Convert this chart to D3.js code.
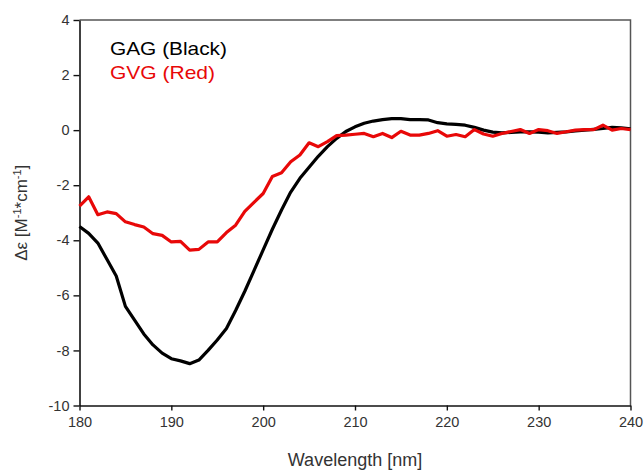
<!DOCTYPE html>
<html>
<head>
<meta charset="utf-8">
<script src="https://cdn.jsdelivr.net/npm/d3@7"></script>
<style>
  html, body { margin: 0; padding: 0; background: #fff; }
  svg { display: block; font-family: "Liberation Sans", Arial, sans-serif; }
</style>
</head>
<body>
<svg id="chart" width="644" height="470"></svg>
<script>
// ---- data ----
const wavelengths = d3.range(180, 241, 1);
const gagValues = [
  -3.5, -3.75, -4.1, -4.7, -5.3, -6.4, -6.9, -7.4, -7.8, -8.1,
  -8.3, -8.38, -8.48, -8.35, -8.0, -7.62, -7.2, -6.55, -5.85, -5.1,
  -4.35, -3.6, -2.9, -2.25, -1.75, -1.35, -0.95, -0.6, -0.3, -0.05,
  0.12, 0.25, 0.33, 0.38, 0.42, 0.42, 0.38, 0.38, 0.37, 0.27,
  0.23, 0.21, 0.18, 0.1, 0.0, -0.07, -0.1, -0.08, -0.06, -0.06,
  -0.07, -0.1, -0.08, -0.06, -0.03, 0.0, 0.03, 0.06, 0.1, 0.08,
  0.05
];
const gvgValues = [
  -2.76, -2.42, -3.07, -2.97, -3.03, -3.33, -3.43, -3.52, -3.76, -3.82,
  -4.06, -4.04, -4.36, -4.33, -4.06, -4.06, -3.72, -3.45, -2.95, -2.62,
  -2.3, -1.68, -1.55, -1.15, -0.9, -0.46, -0.6, -0.42, -0.2, -0.18,
  -0.15, -0.12, -0.24, -0.12, -0.27, -0.04, -0.18, -0.18, -0.12, -0.02,
  -0.22, -0.16, -0.24, 0.02, -0.14, -0.22, -0.12, -0.05, 0.02, -0.12,
  0.02, -0.02, -0.12, -0.06, 0.0, 0.02, 0.02, 0.18, 0.0, 0.06,
  0.02
];
const xTicks = [180, 190, 200, 210, 220, 230, 240];
const yTicks = [-10, -8, -6, -4, -2, 0, 2, 4];
const seriesNames = ["GAG (Black)", "GVG (Red)"];

// ---- layout ----
const svg = d3.select("#chart");
const L = 79.5, R = 630.5, T = 20, B = 405.5;

const x = d3.scaleLinear().domain([180, 240]).range([L, R]);
const y = d3.scaleLinear().domain([-10, 4]).range([B, T]);

// frame (top and right)
svg.append("path")
  .attr("d", `M${L},${T}H${R}V${B}`)
  .attr("fill", "none").attr("stroke", "#555").attr("stroke-width", 1.5);

// axes
const yAxis = svg.append("g")
  .attr("transform", `translate(${L},0)`)
  .call(d3.axisLeft(y).tickValues(yTicks).tickSize(6).tickSizeOuter(0).tickPadding(4)
        .tickFormat(d => String(d)));
const xAxis = svg.append("g")
  .attr("transform", `translate(0,${B})`)
  .call(d3.axisBottom(x).tickValues(xTicks).tickSize(5).tickSizeOuter(0).tickPadding(6)
        .tickFormat(d => String(d)));

[yAxis, xAxis].forEach(g => {
  g.select(".domain").attr("stroke", "#111").attr("stroke-width", 1.6);
  g.selectAll(".tick line").attr("stroke", "#111").attr("stroke-width", 1.4);
  g.selectAll(".tick text").attr("fill", "#333")
    .style("font-family", '"Liberation Sans", Arial, sans-serif').style("font-size", "14.5px");
});

// lines
const line = vals => d3.line()
  .x((d, i) => x(wavelengths[i]))
  .y(d => y(d))(vals);

svg.append("path").attr("d", line(gagValues))
  .attr("fill", "none").attr("stroke", "#000").attr("stroke-width", 3.2)
  .attr("stroke-linejoin", "round");
svg.append("path").attr("d", line(gvgValues))
  .attr("fill", "none").attr("stroke", "#e80808").attr("stroke-width", 3.2)
  .attr("stroke-linejoin", "round");

// legend text
svg.append("text").attr("x", 110).attr("y", 55)
  .attr("fill", "#000").style("font-size", "18.5px")
  .attr("textLength", 117).attr("lengthAdjust", "spacingAndGlyphs")
  .text(seriesNames[0]);
svg.append("text").attr("x", 110).attr("y", 79)
  .attr("fill", "#e80808").style("font-size", "18.5px")
  .attr("textLength", 105).attr("lengthAdjust", "spacingAndGlyphs")
  .text(seriesNames[1]);

// axis titles
svg.append("text")
  .attr("x", (L + R) / 2).attr("y", 466)
  .attr("text-anchor", "middle").attr("fill", "#333")
  .style("font-size", "18px")
  .text("Wavelength [nm]");

const yt = svg.append("text")
  .attr("transform", `translate(27,${(T + B) / 2}) rotate(-90)`)
  .attr("text-anchor", "middle").attr("fill", "#333")
  .style("font-size", "17px");
yt.append("tspan").text("Δε [M");
yt.append("tspan").attr("dy", -6).style("font-size", "11px").text("-1");
yt.append("tspan").attr("dy", 6).text("*cm");
yt.append("tspan").attr("dy", -6).style("font-size", "11px").text("-1");
yt.append("tspan").attr("dy", 6).text("]");
</script>
</body>
</html>
